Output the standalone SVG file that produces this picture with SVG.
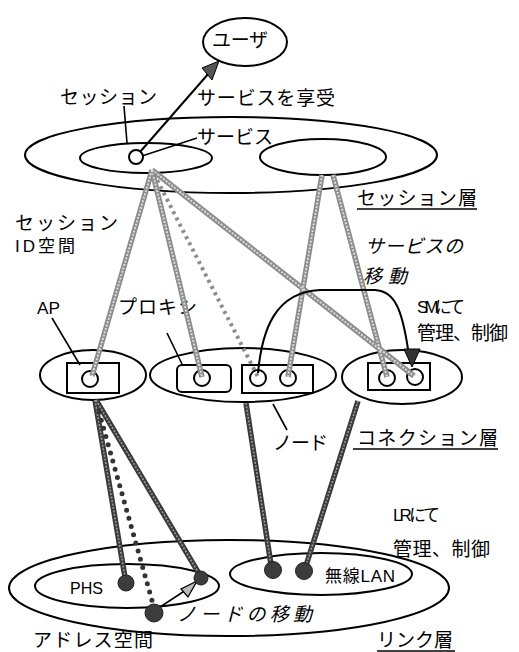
<svg xmlns="http://www.w3.org/2000/svg" width="519" height="652" viewBox="0 0 519 652">
<style>
.o{fill:none;stroke:#000;stroke-width:2}
.w{fill:#fff;stroke:#000;stroke-width:2}
.t{stroke:#000;stroke-width:1.6;fill:none}
.j{font-family:"Noto Sans CJK JP","Liberation Sans",sans-serif;font-size:19px;fill:#000}
.l{font-family:"Liberation Sans","Noto Sans CJK JP",sans-serif;font-size:17px;fill:#000}
.i{font-style:italic}
.g1{stroke:#8c8c8c;stroke-width:5.5;fill:none}
.g2{stroke:#dcdcdc;stroke-width:2;fill:none;stroke-dasharray:2 1.5}
.d1{stroke:#3a3a3a;stroke-width:5.5;fill:none}
.d2{stroke:#9a9a9a;stroke-width:1.6;fill:none;stroke-dasharray:2 1.5}
.dot{fill:#3c3c3c;stroke:#222;stroke-width:1}
</style>
<rect width="519" height="652" fill="#fff"/>

<g id="user">
<ellipse class="o" cx="245" cy="42" rx="42" ry="24"/>
<text class="j" x="212" y="47" textLength="56" lengthAdjust="spacing" font-size="21">ユーザ</text>
</g>

<g id="session-layer">
<ellipse class="o" cx="231" cy="155" rx="206" ry="38"/>
<text class="j" x="357" y="205" textLength="120" lengthAdjust="spacing">セッション層</text>
<line class="t" x1="357" y1="209" x2="477" y2="209"/>
</g>
<g id="session-left">
<ellipse class="o" cx="146" cy="158" rx="66" ry="15"/>
<circle class="w" cx="136" cy="157" r="7"/>
</g>
<g id="session-right">
<ellipse class="o" cx="323" cy="157" rx="63" ry="18"/>
</g>

<g id="labels-top">
<text class="j" x="60" y="104" textLength="97" lengthAdjust="spacing">セッション</text>
<line class="t" x1="124" y1="106" x2="127" y2="143"/>
<text class="j" x="197" y="105" textLength="138" lengthAdjust="spacing">サービスを享受</text>
<text class="j" x="197" y="144" textLength="76" lengthAdjust="spacing">サービス</text>
<line class="t" x1="142" y1="156" x2="197" y2="138"/>
<text class="j" x="15" y="230" textLength="103" lengthAdjust="spacing" font-size="21">セッション</text>
<text class="l" x="15" y="252" textLength="60" lengthAdjust="spacing" font-size="20">ID空間</text>
<text class="j i" x="365" y="253" textLength="98" lengthAdjust="spacing" font-size="22">サービスの</text>
<text class="j i" x="363" y="283" textLength="44" lengthAdjust="spacing" font-size="22">移動</text>
</g>

<g id="conn-ap">
<ellipse class="o" cx="93" cy="375" rx="53" ry="25"/>
<rect class="o" x="67" y="363" width="52" height="30"/>
<circle class="o" cx="90" cy="379" r="8"/>
<text class="l" x="37" y="314" textLength="23" lengthAdjust="spacingAndGlyphs">AP</text>
<line class="t" x1="52" y1="318" x2="80" y2="365"/>
</g>

<g id="conn-node">
<ellipse class="o" cx="243" cy="375" rx="93" ry="27"/>
<rect class="o" x="177" y="365" width="54" height="27" rx="5"/>
<circle class="o" cx="202" cy="378" r="8"/>
<rect class="o" x="242" y="365" width="71" height="28"/>
<circle class="o" cx="258" cy="378" r="8"/>
<circle class="o" cx="288" cy="378" r="8"/>
<text class="j" x="118" y="314" textLength="79" lengthAdjust="spacing">プロキシ</text>
<line class="t" x1="167" y1="333" x2="182" y2="364"/>
<text class="j" x="273" y="450" textLength="55" lengthAdjust="spacing" font-size="24">ノード</text>
<line class="t" x1="273" y1="404" x2="287" y2="430"/>
</g>

<g id="conn-right">
<ellipse class="o" cx="402" cy="377" rx="60" ry="27"/>
<rect class="o" x="368" y="363" width="62" height="27"/>
<circle class="o" cx="387" cy="378" r="8"/>
<circle class="o" cx="415" cy="377" r="8"/>
<text class="l" x="417" y="313" textLength="48" lengthAdjust="spacing">SMにて</text>
<text class="j" x="417" y="340" textLength="91" lengthAdjust="spacing">管理、制御</text>
</g>

<g id="conn-layer-label">
<text class="j" x="357" y="445" textLength="141" lengthAdjust="spacing">コネクション層</text>
<line class="t" x1="353" y1="449" x2="498" y2="449"/>
</g>

<g id="link-layer">
<ellipse class="o" cx="229" cy="588" rx="220" ry="48"/>
<text class="l" x="393" y="521" textLength="47" lengthAdjust="spacing">LRにて</text>
<text class="j" x="393" y="556" textLength="97" lengthAdjust="spacing">管理、制御</text>
<text class="j" x="33" y="647" textLength="120" lengthAdjust="spacing">アドレス空間</text>
<text class="j" x="377" y="647" textLength="76" lengthAdjust="spacing">リンク層</text>
<line class="t" x1="377" y1="651" x2="455" y2="651"/>
</g>
<g id="phs">
<ellipse class="o" cx="127" cy="586" rx="92" ry="22"/>
<text class="l" x="70" y="594" textLength="33" lengthAdjust="spacingAndGlyphs">PHS</text>
</g>
<g id="wlan">
<ellipse class="o" cx="321" cy="574" rx="91" ry="21"/>
<text class="l" x="325" y="582" textLength="70" lengthAdjust="spacing">無線LAN</text>
</g>

<g id="connectors">
<line x1="140" y1="152" x2="209" y2="73" stroke="#000" stroke-width="2"/>
<polygon points="219,61 202,68 212,80" fill="#555" stroke="#000" stroke-width="1"/>
<g>
<path class="g1" d="M152,170 L92,376 M152,170 L202,377 M152,170 L414,376 M322,175 L288,377 M333,175 L387,377"/>
<path class="g2" d="M152,170 L92,376 M152,170 L202,377 M152,170 L414,376 M322,175 L288,377 M333,175 L387,377"/>
<path d="M154,174 L258,377" stroke="#8c8c8c" stroke-width="4" stroke-dasharray="3 4" fill="none"/>
</g>
<path d="M258,373 C262,330 275,292 320,290 L375,290 C395,291 402,310 408,349" fill="none" stroke="#000" stroke-width="2"/>
<polygon points="404,349 420,349 412,367" fill="#333" stroke="#000" stroke-width="1"/>
<path class="d1" d="M95,400 L126,583 M96,400 L201,577 M246,403 L272,571 M358,401 L304,572"/>
<path class="d2" d="M95,400 L126,583 M96,400 L201,577 M246,403 L272,571 M358,401 L304,572"/>
<path d="M99,412 L153,604" stroke="#333" stroke-width="5" stroke-linecap="round" stroke-dasharray="0 8.5" fill="none"/>
<line x1="157" y1="609" x2="186" y2="590" stroke="#000" stroke-width="1.5"/>
<polygon points="197,581 181,589 188,597" fill="#bbb" stroke="#000" stroke-width="1.3"/>
</g>

<g id="link-nodes">
<circle class="dot" cx="126" cy="583" r="8"/>
<circle class="dot" cx="201" cy="578" r="7"/>
<circle class="dot" cx="154" cy="613" r="9"/>
<circle class="dot" cx="273" cy="570" r="8.5"/>
<circle class="dot" cx="304" cy="571" r="8.5"/>
</g>
<text class="j i" x="177" y="621" textLength="135" lengthAdjust="spacing" font-size="22">ノードの移動</text>
</svg>
